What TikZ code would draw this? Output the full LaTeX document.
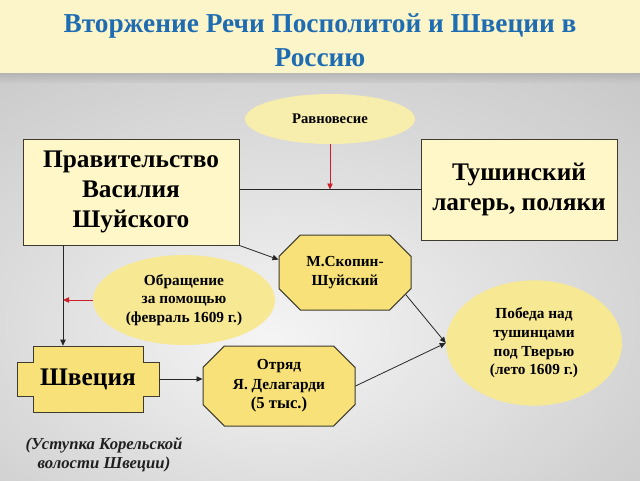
\documentclass[tikz,border=0pt]{standalone}
\usepackage{fontspec}
\setmainfont{Liberation Serif}
\usetikzlibrary{shapes.geometric,shapes.misc,arrows.meta}

\definecolor{bandcol}{RGB}{253,245,202}
\definecolor{titlecol}{RGB}{30,108,178}
\definecolor{cream}{RGB}{255,247,200}
\definecolor{gold}{RGB}{247,225,120}
\definecolor{pale}{RGB}{247,237,172}
\definecolor{oval}{RGB}{247,232,148}
\definecolor{edge}{RGB}{62,58,48}
\definecolor{redline}{RGB}{205,30,40}
\pgfdeclareradialshading{bgglow}{\pgfpoint{-4bp}{-8bp}}{color(0bp)=(gray!8); color(22bp)=(gray!28); color(45bp)=(gray!48); color(75bp)=(gray!62)}

\tikzset{
  box/.style={rectangle, draw=edge, line width=0.75pt, fill=cream, align=center, inner sep=0pt,
    font=\bfseries\fontsize{19}{22.5}\selectfont},
  octo/.style={chamfered rectangle, chamfered rectangle xsep=8pt, chamfered rectangle ysep=8pt,
    draw=edge, line width=0.75pt, fill=gold, align=center, inner sep=0pt,
    font=\bfseries\fontsize{11.5}{14.5}\selectfont},
  oval/.style={ellipse, fill=oval, align=center, inner sep=0pt,
    font=\bfseries\fontsize{11.5}{14}\selectfont},
  link/.style={draw=black!85, line width=0.6pt, -{Triangle[length=4.5pt,width=4pt]}},
  redlink/.style={draw=redline, line width=0.6pt, -{Triangle[length=4.5pt,width=4pt]}}
}

\begin{document}
\begin{tikzpicture}[x=0.75pt,y=0.75pt,yscale=-1,xscale=1]
\useasboundingbox (0,0) rectangle (640,480);
%Background
\shade[shading=bgglow] (0,73) rectangle (640,480);
\shade[top color=gray!70, bottom color=gray!45, opacity=0.6] (0,73) rectangle (640,82);
\fill[bandcol] (0,0) rectangle (640,73);

% Title
\node (title) at (320,40) [align=center, text=titlecol, font=\bfseries\fontsize{20.5}{25.5}\selectfont]
  {Вторжение Речи Посполитой и Швеции в\\Россию};

%Shape: Ellipse
\node (ravn) at (330,119) [oval, fill=pale, minimum width=127.5pt, minimum height=37.5pt, font=\bfseries\fontsize{11}{13}\selectfont] {Равновесие};
%Shape: Rectangle
\node (gov) at (131,192) [box, minimum width=162pt, minimum height=79.5pt] {Правительство\\Василия\\Шуйского};
\node (tush) at (519,189.5) [box, minimum width=147pt, minimum height=75.75pt] {Тушинский\\лагерь, поляки};
%Shape: Octagon
\node (skop) at (345,272.5) [octo, minimum width=99pt, minimum height=56.25pt] {М.Скопин-\\Шуйский};
\node (otr) at (279,386) [octo, minimum width=114pt, minimum height=60pt] {Отряд\\Я. Делагарди\\{\fontsize{12.5}{14.5}\selectfont(5 тыс.)}};
%Shape: Ellipse
\node (obr) at (184,300) [oval, minimum width=136.5pt, minimum height=67.5pt] {Обращение\\за помощью\\(февраль 1609 г.)};
\node (pob) at (534,343) [oval, minimum width=132pt, minimum height=94pt] {Победа над\\тушинцами\\под Тверью\\(лето 1609 г.)};
%Shape: Notched Rectangle
\draw[draw=edge, line width=0.75pt, fill=gold] (33,346) -- (143,346) -- (143,362) -- (159,362) -- (159,396) -- (143,396) -- (143,412) -- (33,412) -- (33,396) -- (17,396) -- (17,362) -- (33,362) -- cycle;
\node (swe) at (88,379) [rectangle, minimum width=106.5pt, minimum height=49.5pt, inner sep=0pt, font=\bfseries\fontsize{19}{22.5}\selectfont] {Швеция};

% Text Node
\node (note) at (104,455) [align=center, text=black!88, font=\bfseries\itshape\fontsize{12.5}{14.25}\selectfont]
  {(Уступка Корельской\\волости Швеции)};

%Straight Lines
\coordinate (govdrop) at (63,245);
\draw[draw=black!85, line width=0.6pt] (tush.west -| gov.east) -- (tush.west);
\draw[redlink] (ravn.south) -- (ravn.south |- tush.west);
\draw[link] (gov.south east) -- (skop.169);
\draw[link] (govdrop) -- (govdrop |- swe.north);
\draw[redlink] (obr.west) -- (obr.west -| govdrop);
\draw[link] (swe.east) -- (swe.east -| otr.west);
\draw[link] (skop.-20) -- (pob.west);
\draw[link] (otr.east) -- (pob.west);
\end{tikzpicture}
\end{document}
